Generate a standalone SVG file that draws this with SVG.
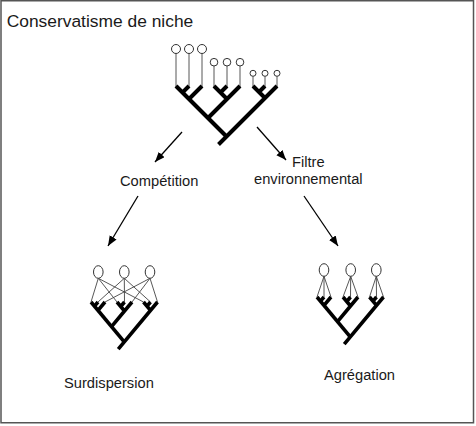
<svg xmlns="http://www.w3.org/2000/svg" width="476" height="426" viewBox="0 0 476 426">
<defs>
<style>
.txt{font-family:"Liberation Sans",Arial,sans-serif;fill:#1a1a1a;}
.thick{stroke:#000;fill:none;stroke-linecap:butt;stroke-linejoin:miter;}
.thin{stroke:#444;stroke-width:0.9;fill:none;}
.sp{stroke:#333;stroke-width:1;fill:#fff;}
.arr{stroke:#000;stroke-width:1.3;fill:none;marker-end:url(#ah);}
</style>
<marker id="ah" markerUnits="userSpaceOnUse" markerWidth="11" markerHeight="9" refX="10" refY="4" orient="auto" viewBox="0 0 11 9">
<path d="M0,0 L10,4 L0,8 z" fill="#000"/>
</marker>
<g id="smalltree" class="thick" stroke-width="3.6">
<path d="M0,0 L33.25,39.9"/>
<path d="M7,0 L3.5,4.2 M14,0 L7,8.4"/>
<path d="M26,0 L33.5,9 M33.5,0 L29.75,4.5 M41,0 L20.5,24.6"/>
<path d="M52.5,0 L59.5,8.4 M59.5,0 L56,4.2 M66.5,0 L27.25,47.1"/>
</g>
</defs>
<rect x="1" y="0.75" width="472.5" height="422" fill="#fff" stroke="#555" stroke-width="1.5"/>
<text class="txt" x="6.7" y="27.3" font-size="17.4">Conservatisme de niche</text>

<g id="top-tree">
<g class="thin">
<path d="M176,53.5 V87 M189,53.5 V87 M202,53.5 V87"/>
<path d="M214,66 V87 M227,66 V87 M240,66 V87"/>
<path d="M253,76.3 V87 M265,76.3 V87 M277,76.3 V87"/>
</g>
<g class="sp">
<circle cx="176" cy="49" r="4.5"/><circle cx="189" cy="49" r="4.5"/><circle cx="202" cy="49" r="4.5"/>
<circle cx="214" cy="62.2" r="3.8"/><circle cx="227" cy="62.2" r="3.8"/><circle cx="240" cy="62.2" r="3.8"/>
<circle cx="253" cy="73.3" r="3"/><circle cx="265" cy="73.3" r="3"/><circle cx="277" cy="73.3" r="3"/>
</g>
<g class="thick" stroke-width="4">
<path d="M176,86 L226.5,136.5"/>
<path d="M189,86 L182.5,92.5 M202,86 L189,99"/>
<path d="M214,86 L227,99 M227,86 L220.5,92.5 M240,86 L208,118"/>
<path d="M253,86 L265,98 M265,86 L259,92 M277,86 L218.5,144.5"/>
</g>
</g>

<g id="labels">
<text class="txt" x="120" y="186" font-size="14.7">Compétition</text>
<text class="txt" x="308.3" y="166.7" font-size="14.7" text-anchor="middle">Filtre</text>
<text class="txt" x="308.3" y="184" font-size="14.7" text-anchor="middle">environnemental</text>
<text class="txt" x="64" y="388.3" font-size="14.7">Surdispersion</text>
<text class="txt" x="324" y="380" font-size="14.7">Agrégation</text>
</g>

<g id="connectors">
<line class="arr" x1="182" y1="132" x2="155" y2="162"/>
<line class="arr" x1="257" y1="127" x2="286" y2="160"/>
<line class="arr" x1="138" y1="196" x2="108" y2="246"/>
<line class="arr" x1="304" y1="196" x2="338" y2="246"/>
</g>

<g id="surdispersion-tree">
<g class="thin">
<path d="M98.3,278.3 L91,302 M98.3,278.3 L117,302 M98.3,278.3 L143.5,302"/>
<path d="M124.3,278.3 L98,302 M124.3,278.3 L124.5,302 M124.3,278.3 L150.5,302"/>
<path d="M150,278.3 L105,302 M150,278.3 L132,302 M150,278.3 L157.5,302"/>
</g>
<g class="sp">
<ellipse cx="98.3" cy="272" rx="4.8" ry="6.3"/>
<ellipse cx="124.3" cy="272" rx="4.8" ry="6.3"/>
<ellipse cx="150" cy="272" rx="4.8" ry="6.3"/>
</g>
<use href="#smalltree" transform="translate(91,302)"/>
</g>

<g id="agregation-tree">
<g class="thin">
<path d="M324,276.3 L317,297 M324,276.3 L324,297 M324,276.3 L331,297"/>
<path d="M350.7,276.3 L343,297 M350.7,276.3 L350.5,297 M350.7,276.3 L358,297"/>
<path d="M376.3,276.3 L369.5,297 M376.3,276.3 L376.5,297 M376.3,276.3 L383.5,297"/>
</g>
<g class="sp">
<ellipse cx="324" cy="270" rx="4.8" ry="6.3"/>
<ellipse cx="350.7" cy="270" rx="4.8" ry="6.3"/>
<ellipse cx="376.3" cy="270" rx="4.8" ry="6.3"/>
</g>
<use href="#smalltree" transform="translate(317,297)"/>
</g>
</svg>
